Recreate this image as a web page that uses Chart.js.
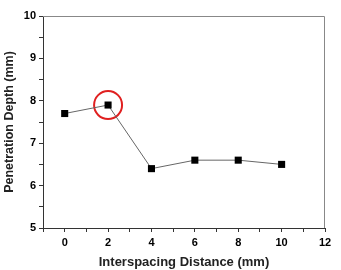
<!DOCTYPE html>
<html>
<head>
<meta charset="utf-8">
<script src="https://cdn.jsdelivr.net/npm/chart.js@4.4.0/dist/chart.umd.min.js"></script>
<style>
  html, body { margin: 0; padding: 0; background: #fff; }
  #wrap { width: 341px; height: 270px; }
</style>
</head>
<body>
<div id="wrap"><canvas id="chart"></canvas></div>
<script>
// 데이터
const distances = [0, 2, 4, 6, 8, 10];
const depths = [7.7, 7.9, 6.4, 6.6, 6.6, 6.5];
const highlightIndex = 1; // 빨간 원 표시

// 프레임 (위/오른쪽 테두리)
const framePlugin = {
    id: 'frame',
    afterDraw(chart) {
        const { ctx, chartArea: a } = chart;
        ctx.save();
        ctx.strokeStyle = '#888';
        ctx.lineWidth = 1;
        ctx.beginPath();
        ctx.moveTo(a.left, a.top + 0.5);
        ctx.lineTo(a.right - 0.5, a.top + 0.5);
        ctx.lineTo(a.right - 0.5, a.bottom);
        ctx.stroke();
        ctx.restore();
    }
};

new Chart(document.getElementById('chart'), {
    type: 'scatter',
    data: {
        datasets: [{
            data: distances.map((x, i) => ({ x, y: depths[i] })),
            showLine: true,
            borderColor: '#666',
            borderWidth: 1,
            pointStyle: 'rect',
            pointRadius: 5,
            pointBackgroundColor: '#000',
            pointBorderColor: '#000',
            pointBorderWidth: 0
        }, {
            data: [{ x: distances[highlightIndex], y: depths[highlightIndex] }],
            pointStyle: 'circle',
            pointRadius: 14,
            pointBackgroundColor: 'rgba(0,0,0,0)',
            pointBorderColor: '#e02020',
            pointBorderWidth: 2
        }]
    },
    options: {
        responsive: true,
        maintainAspectRatio: false,
        animation: false,
        layout: { padding: { top: 13, right: 8, left: 0, bottom: 0 } },
        scales: {
            x: {
                min: -1, max: 12,
                border: { color: '#333', width: 1 },
                grid: { drawOnChartArea: false, tickLength: 4, color: '#333' },
                ticks: {
                    stepSize: 1,
                    autoSkip: false,
                    maxRotation: 0,
                    padding: 4,
                    color: '#000',
                    font: { family: 'Liberation Sans, Arial', weight: 'bold', size: 11 },
                    callback: v => (v >= 0 && v % 2 === 0) ? v : ''
                },
                title: {
                    display: true,
                    text: 'Interspacing Distance (mm)',
                    color: '#222',
                    font: { family: 'Liberation Sans, Arial', weight: 'bold', size: 13 },
                    padding: { top: 3, bottom: 0 }
                },
                afterFit: s => { s.height = 42; }
            },
            y: {
                min: 5, max: 10,
                border: { color: '#333', width: 1 },
                grid: { drawOnChartArea: false, tickLength: 4, color: '#333' },
                ticks: {
                    stepSize: 0.5,
                    autoSkip: false,
                    padding: 3,
                    color: '#000',
                    font: { family: 'Liberation Sans, Arial', weight: 'bold', size: 11 },
                    callback: v => Number.isInteger(v) ? v : ''
                },
                title: {
                    display: true,
                    text: 'Penetration Depth (mm)',
                    color: '#222',
                    font: { family: 'Liberation Sans, Arial', weight: 'bold', size: 12.5 },
                    padding: { top: 2, bottom: 4 }
                },
                afterFit: s => { s.width = 43; }
            }
        },
        plugins: {
            legend: { display: false },
            tooltip: { enabled: false }
        }
    },
    plugins: [framePlugin]
});
</script>
</body>
</html>
